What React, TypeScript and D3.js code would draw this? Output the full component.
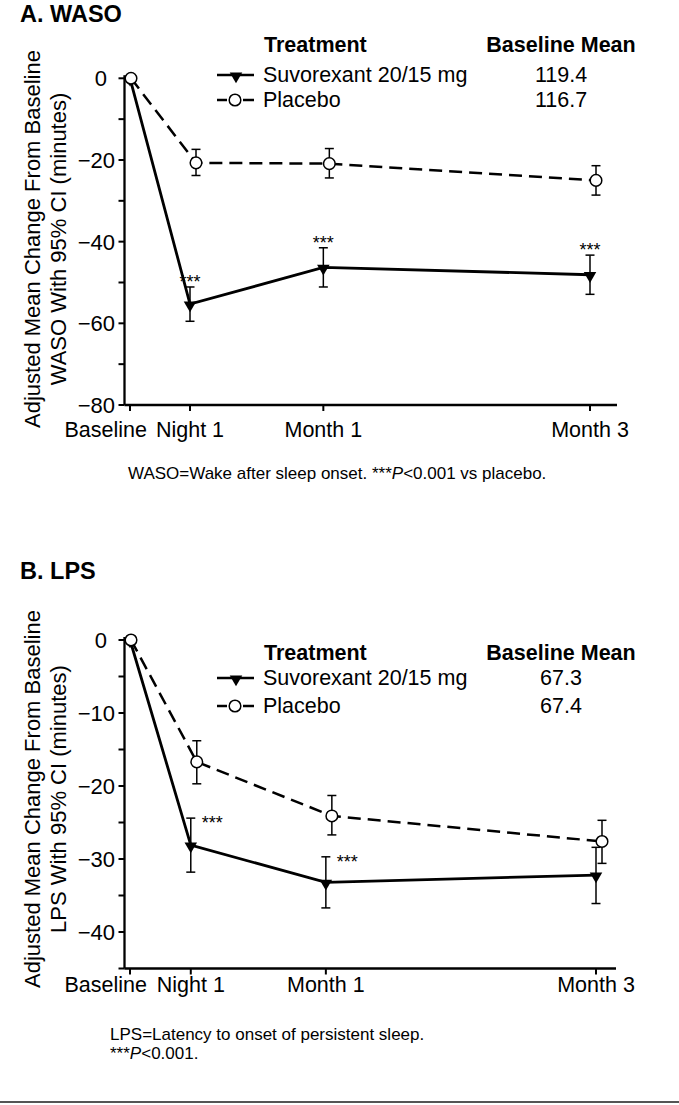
import React from "react";
import * as d3 from "d3";

// ---------- data ----------
const timepoints = ["Baseline", "Night 1", "Month 1", "Month 3"];
const timeMonths = [0, 0.45, 1.45, 3.45];

const wasoSuvoMean = [0, -55.3, -46.3, -48.1];
const wasoSuvoLow = [null, -59.5, -51.1, -52.9];
const wasoSuvoHigh = [null, -51.1, -41.5, -43.3];
const wasoPlaMean = [0, -20.7, -20.9, -25.0];
const wasoPlaLow = [null, -23.8, -24.4, -28.6];
const wasoPlaHigh = [null, -17.4, -17.2, -21.4];
const wasoSig = [false, true, true, true];
const wasoTicks = [0, -10, -20, -30, -40, -50, -60, -70, -80];
const wasoTickLabels = [0, -20, -40, -60, -80];

const lpsSuvoMean = [0, -28.1, -33.2, -32.2];
const lpsSuvoLow = [null, -31.8, -36.7, -36.1];
const lpsSuvoHigh = [null, -24.4, -29.7, -28.4];
const lpsPlaMean = [0, -16.7, -24.1, -27.6];
const lpsPlaLow = [null, -19.7, -26.7, -30.6];
const lpsPlaHigh = [null, -13.8, -21.3, -24.7];
const lpsSig = [false, true, true, false];
const lpsTicks = [0, -5, -10, -15, -20, -25, -30, -35, -40, -45];
const lpsTickLabels = [0, -10, -20, -30, -40];

const legendTreatments = ["Suvorexant 20/15 mg", "Placebo"];
const wasoBaselineMeans = ["119.4", "116.7"];
const lpsBaselineMeans = ["67.3", "67.4"];

// ---------- styling ----------
const FONT = "'Liberation Sans', Arial, Helvetica, sans-serif";
const W = 679;
const H = 1105;

function T({ x, y, anchor = "start", size = 21.5, weight = "normal", children }: any) {
  return (
    <text
      x={x}
      y={y}
      textAnchor={anchor}
      fontSize={size}
      fontWeight={weight}
      fontFamily={FONT}
      fill="#000"
    >
      {children}
    </text>
  );
}

const fmt = (v: number) => (v < 0 ? "\u2212" + Math.abs(v) : String(v));

function Panel({ cfg }: any) {
  const x = d3.scaleLinear().domain([0, timeMonths[3]]).range(cfg.xRange);
  const y = d3.scaleLinear().domain(cfg.yDomain).range(cfg.yRange);
  const axisX = cfg.axisX;
  const axisBottom = y(cfg.yDomain[0]);
  const dodge = (i: number) => (i === 0 ? 1 : 6);
  const suvoPts = cfg.suvoMean.map((v: number, i: number) => [x(timeMonths[i]), y(v)]);
  const plaPts = cfg.plaMean.map((v: number, i: number) => [x(timeMonths[i]) + dodge(i), y(v)]);
  const line = d3.line();
  const tri = d3.symbol(d3.symbolTriangle, 68)();
  const capW = 4.5;

  const errBars = (pts: any[], lo: any[], hi: any[], key: string) =>
    pts.map((p, i) =>
      lo[i] == null ? null : (
        <g key={key + i} stroke="#000" strokeWidth={1.5}>
          <line x1={p[0]} x2={p[0]} y1={y(lo[i])} y2={y(hi[i])} />
          <line x1={p[0] - capW} x2={p[0] + capW} y1={y(lo[i])} y2={y(lo[i])} />
          <line x1={p[0] - capW} x2={p[0] + capW} y1={y(hi[i])} y2={y(hi[i])} />
        </g>
      )
    );

  const lg = cfg.legend;
  return (
    <g>
      <T x={20} y={cfg.titleY} size={23.5} weight="bold">
        {cfg.title}
      </T>
      {/* y axis title */}
      <text
        transform={`translate(40,${cfg.yTitleCenter}) rotate(-90)`}
        textAnchor="middle"
        fontSize={22}
        fontFamily={FONT}
      >
        Adjusted Mean Change From Baseline
      </text>
      <text
        transform={`translate(66,${cfg.yTitleCenter}) rotate(-90)`}
        textAnchor="middle"
        fontSize={22}
        fontFamily={FONT}
      >
        {cfg.yTitle2}
      </text>
      {/* axes */}
      <line x1={axisX} x2={axisX} y1={y(0) - 3} y2={axisBottom} stroke="#000" strokeWidth={2.3} />
      <line x1={axisX} x2={cfg.xEnd} y1={axisBottom} y2={axisBottom} stroke="#000" strokeWidth={2.3} />
      {cfg.ticks.map((t: number) => (
        <line key={"yt" + t} x1={axisX - 6} x2={axisX} y1={y(t)} y2={y(t)} stroke="#000" strokeWidth={2} />
      ))}
      {cfg.tickLabels.map((t: number) => (
        <T key={"yl" + t} x={t === 0 ? axisX - 17.5 : axisX - 9.5} y={y(t) + 8} anchor="end" size={22}>
          {fmt(t)}
        </T>
      ))}
      {timeMonths.map((m, i) => (
        <line key={"xt" + i} x1={x(m)} x2={x(m)} y1={axisBottom} y2={axisBottom + 6} stroke="#000" strokeWidth={2} />
      ))}
      {timepoints.map((lab, i) =>
        i === 0 ? (
          <T key={"xl" + i} x={x(timeMonths[0]) + 17} y={cfg.xLabelY} anchor="end">
            {lab}
          </T>
        ) : (
          <T key={"xl" + i} x={x(timeMonths[i])} y={cfg.xLabelY} anchor="middle">
            {lab}
          </T>
        )
      )}
      {/* lines */}
      <path d={line(plaPts) as string} fill="none" stroke="#000" strokeWidth={2.5} strokeDasharray="13,7" />
      <path d={line(suvoPts) as string} fill="none" stroke="#000" strokeWidth={2.8} />
      {errBars(plaPts, cfg.plaLow, cfg.plaHigh, "pe")}
      {errBars(suvoPts, cfg.suvoLow, cfg.suvoHigh, "se")}
      {suvoPts.map((p: number[], i: number) => (
        <path key={"sm" + i} d={tri as string} transform={`translate(${p[0]},${p[1] + 1}) rotate(180)`} fill="#000" />
      ))}
      {plaPts.map((p: number[], i: number) => (
        <circle key={"pm" + i} cx={p[0]} cy={p[1]} r={5.8} fill="#fff" stroke="#000" strokeWidth={1.5} />
      ))}
      {/* significance */}
      {cfg.sig.map((s: boolean, i: number) =>
        !s ? null : cfg.sigRight ? (
          <T key={"sg" + i} x={suvoPts[i][0] + 11} y={y(cfg.suvoHigh[i]) + 11} size={18}>
            ***
          </T>
        ) : (
          <T key={"sg" + i} x={suvoPts[i][0]} y={y(cfg.suvoHigh[i]) + 1} anchor="middle" size={18}>
            ***
          </T>
        )
      )}
      {/* legend */}
      <T x={264} y={lg.y0} weight="bold">Treatment</T>
      <T x={561} y={lg.y0} weight="bold" anchor="middle">Baseline Mean</T>
      <line x1={217} x2={254} y1={lg.y1 - 7} y2={lg.y1 - 7} stroke="#000" strokeWidth={2.5} />
      <path d={tri as string} transform={`translate(236,${lg.y1 - 6}) rotate(180)`} fill="#000" />
      <T x={263} y={lg.y1}>{legendTreatments[0]}</T>
      <T x={561} y={lg.y1} anchor="middle">{cfg.baselineMeans[0]}</T>
      <line x1={217} x2={227} y1={lg.y2 - 7} y2={lg.y2 - 7} stroke="#000" strokeWidth={2.5} />
      <line x1={243} x2={254} y1={lg.y2 - 7} y2={lg.y2 - 7} stroke="#000" strokeWidth={2.5} />
      <circle cx={235} cy={lg.y2 - 7} r={5.8} fill="#fff" stroke="#000" strokeWidth={1.5} />
      <T x={263} y={lg.y2}>{legendTreatments[1]}</T>
      <T x={561} y={lg.y2} anchor="middle">{cfg.baselineMeans[1]}</T>
    </g>
  );
}

const wasoCfg = {
  title: "A. WASO",
  titleY: 22,
  yTitle2: "WASO With 95% CI (minutes)",
  yTitleCenter: 239,
  yDomain: [-80, 0],
  yRange: [405, 78.3],
  xRange: [130, 590],
  axisX: 124.5,
  xEnd: 617,
  xLabelY: 437,
  ticks: wasoTicks,
  tickLabels: wasoTickLabels,
  suvoMean: wasoSuvoMean,
  suvoLow: wasoSuvoLow,
  suvoHigh: wasoSuvoHigh,
  plaMean: wasoPlaMean,
  plaLow: wasoPlaLow,
  plaHigh: wasoPlaHigh,
  sig: wasoSig,
  sigRight: false,
  baselineMeans: wasoBaselineMeans,
  legend: { y0: 52, y1: 82, y2: 107 },
};

const lpsCfg = {
  title: "B. LPS",
  titleY: 579,
  yTitle2: "LPS With 95% CI (minutes)",
  yTitleCenter: 799,
  yDomain: [-45, 0],
  yRange: [968.5, 640],
  xRange: [130, 596],
  axisX: 124.5,
  xEnd: 616,
  xLabelY: 992,
  ticks: lpsTicks,
  tickLabels: lpsTickLabels,
  suvoMean: lpsSuvoMean,
  suvoLow: lpsSuvoLow,
  suvoHigh: lpsSuvoHigh,
  plaMean: lpsPlaMean,
  plaLow: lpsPlaLow,
  plaHigh: lpsPlaHigh,
  sig: lpsSig,
  sigRight: true,
  baselineMeans: lpsBaselineMeans,
  legend: { y0: 660, y1: 685, y2: 713 },
};

export default function App() {
  return (
    <svg
      width={W}
      height={H}
      style={{ position: "absolute", left: 0, top: 0, background: "#fff" }}
      fontFamily={FONT}
    >
      <rect x={0} y={0} width={W} height={H} fill="#fff" />
      <Panel cfg={wasoCfg} />
      <Panel cfg={lpsCfg} />
      <text x={128} y={479} fontSize={17} fontFamily={FONT}>
        WASO=Wake after sleep onset. ***<tspan fontStyle="italic">P</tspan>&lt;0.001 vs placebo.
      </text>
      <text x={110} y={1040} fontSize={17} fontFamily={FONT}>
        LPS=Latency to onset of persistent sleep.
      </text>
      <text x={110} y={1059} fontSize={17} fontFamily={FONT}>
        ***<tspan fontStyle="italic">P</tspan>&lt;0.001.
      </text>
      <line x1={0} x2={W} y1={1102} y2={1102} stroke="#555" strokeWidth={2} />
    </svg>
  );
}
